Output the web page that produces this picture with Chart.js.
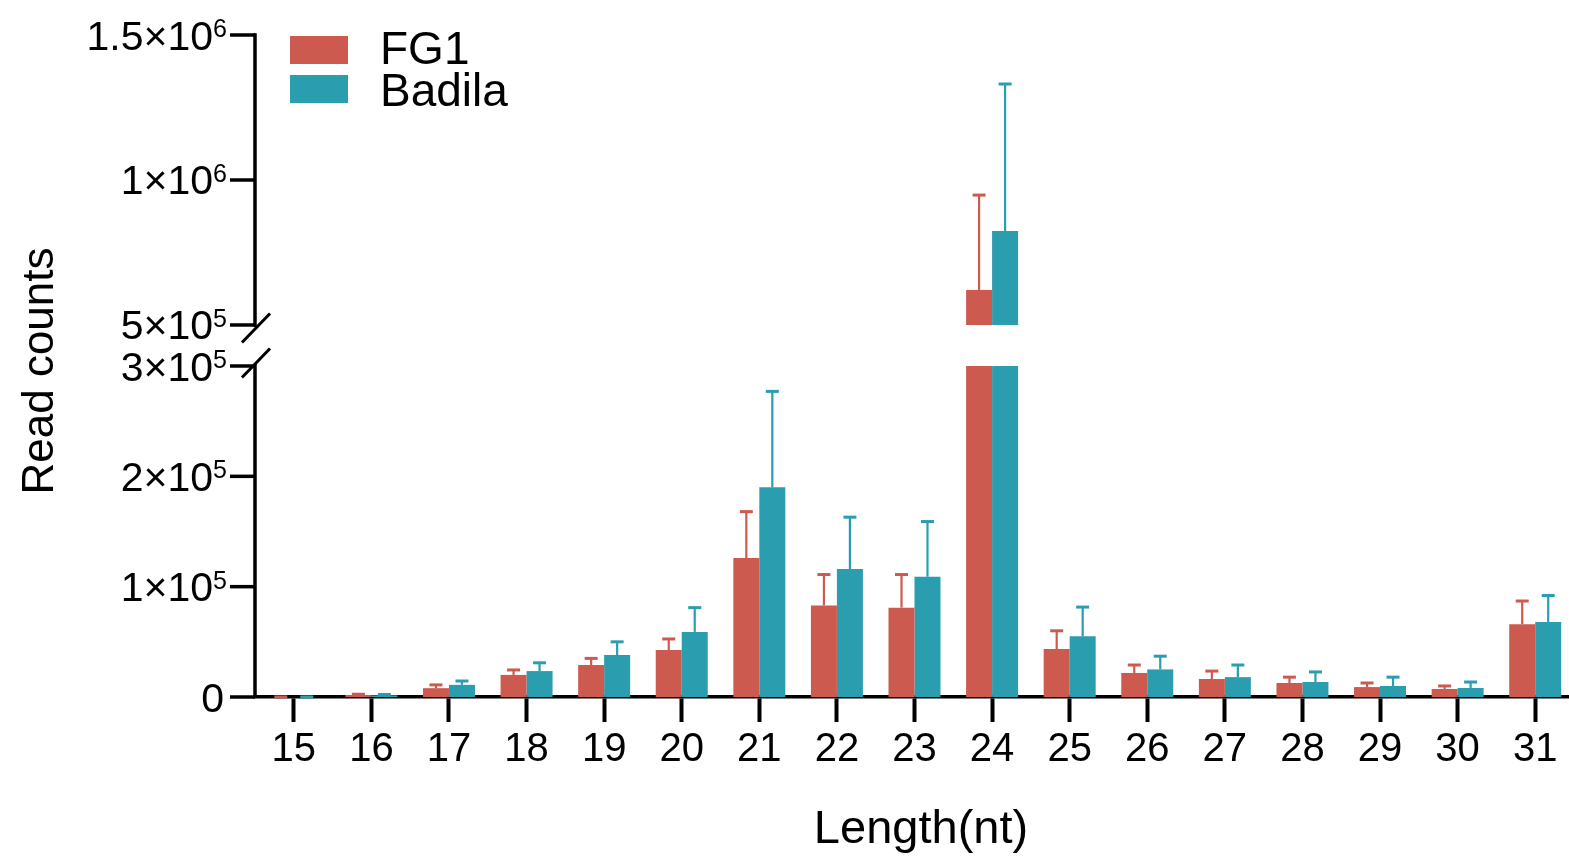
<!DOCTYPE html>
<html>
<head>
<meta charset="utf-8">
<title>Read counts by length</title>
<script src="https://cdn.jsdelivr.net/npm/chart.js@4.4.1/dist/chart.umd.min.js"></script>
<style>
    html, body {
        margin: 0;
        padding: 0;
        background: #ffffff;
        overflow: hidden;
    }
    #chart_box {
        position: relative;
        width: 1574px;
        height: 857px;
    }
</style>
</head>
<body>
<div id="chart_box">
    <canvas id="length_chart"></canvas>
</div>
<script>
// data
const length_labels = ["15", "16", "17", "18", "19", "20", "21", "22", "23", "24", "25", "26", "27", "28", "29", "30", "31"];
const fg1_counts = [40, 1800, 8000, 20000, 29000, 42600, 126000, 83000, 81000, 621000, 43500, 21800, 16300, 12700, 9000, 7300, 66000];
const fg1_errors = [30, 700, 3000, 4500, 6000, 10000, 42000, 28000, 30000, 327000, 16500, 7200, 7200, 5300, 3700, 2700, 21000];
const badila_counts = [40, 1500, 11000, 23500, 38000, 59000, 190000, 116000, 109000, 824000, 55000, 25000, 18000, 13600, 10000, 8200, 68000];
const badila_errors = [30, 800, 3500, 7500, 12000, 22000, 87000, 47000, 50000, 507000, 26500, 12000, 11000, 9100, 8000, 5400, 24000];
const series_names = ["FG1", "Badila"];

const y_low_ticks = [0, 100000, 200000, 300000];
const y_low_labels = ["0", "1×10^5", "2×10^5", "3×10^5"];
const y_high_ticks = [500000, 1000000, 1500000];
const y_high_labels = ["5×10^5", "1×10^6", "1.5×10^6"];

const x_title = "Length(nt)";
const y_title = "Read counts";

// broken axis: lower part 0..3e5, upper part starts at 5e5
const LOW_MAX = 300000;
const HIGH_START = 500000;
const HIGH_MIN = 358600;
const HIGH_MAX = 1500000;

const FONT = "Arial, 'Liberation Sans', Helvetica, sans-serif";
const COLORS = ["#cd5a4f", "#2a9daf"];


function drawPowerLabel(ctx, text, right_x, y) {
    let parts = text.split("^");
    let base = parts[0];
    let exp = parts.length > 1 ? parts[1] : "";
    ctx.textAlign = "right";
    ctx.textBaseline = "alphabetic";
    let exp_w = 0;
    if (exp) {
        ctx.font = "25px " + FONT;
        exp_w = ctx.measureText(exp).width;
        ctx.fillText(exp, right_x, y + 2);
    } else {
        right_x -= 3;
    }
    ctx.font = "41px " + FONT;
    ctx.fillText(base, right_x - exp_w, y + 14.5);
}


const broken_axis_plugin = {
    id: "brokenAxis",

    afterDatasetsDraw(chart) {
        let ctx = chart.ctx;
        let y_low = chart.scales.yLow;
        let y_high = chart.scales.yHigh;
        let all_counts = [fg1_counts, badila_counts];
        let all_errors = [fg1_errors, badila_errors];
        ctx.save();
        for (let s = 0; s < 2; s++) {
            let meta = chart.getDatasetMeta(s);
            ctx.strokeStyle = COLORS[s];
            for (let i = 0; i < length_labels.length; i++) {
                let bar = meta.data[i];
                let val = all_counts[s][i];
                let top = val + all_errors[s][i];
                let y0 = val > LOW_MAX ? y_high.getPixelForValue(val) : y_low.getPixelForValue(val);
                let y1 = top > LOW_MAX ? y_high.getPixelForValue(top) : y_low.getPixelForValue(top);
                ctx.lineWidth = 2.2;
                ctx.beginPath();
                ctx.moveTo(bar.x, y0);
                ctx.lineTo(bar.x, y1);
                ctx.stroke();
                ctx.lineWidth = 3;
                ctx.beginPath();
                ctx.moveTo(bar.x - 6.5, y1);
                ctx.lineTo(bar.x + 6.5, y1);
                ctx.stroke();
            }
        }
        ctx.restore();
    },

    afterDraw(chart) {
        let ctx = chart.ctx;
        let area = chart.chartArea;
        let y_low = chart.scales.yLow;
        let y_high = chart.scales.yHigh;
        let ax = area.left;
        ctx.save();
        ctx.strokeStyle = "#000000";
        ctx.fillStyle = "#000000";
        ctx.lineWidth = 3.5;
        ctx.lineCap = "butt";

        // y axis, in two pieces
        let y_break_hi = y_high.getPixelForValue(HIGH_START);
        let y_break_lo = y_low.getPixelForValue(LOW_MAX);
        ctx.beginPath();
        ctx.moveTo(ax, y_high.getPixelForValue(HIGH_MAX) - 1.75);
        ctx.lineTo(ax, y_break_hi + 2);
        ctx.moveTo(ax, y_break_lo - 2);
        ctx.lineTo(ax, y_low.getPixelForValue(0));
        ctx.stroke();

        // break marks
        ctx.lineWidth = 3;
        ctx.beginPath();
        ctx.moveTo(ax - 13, y_break_hi + 3 + 14.5);
        ctx.lineTo(ax + 15, y_break_hi + 3 - 14.5);
        ctx.moveTo(ax - 13, y_break_lo - 3 + 14.5);
        ctx.lineTo(ax + 15, y_break_lo - 3 - 14.5);
        ctx.stroke();

        // ticks and labels
        ctx.lineWidth = 3.5;
        let tick_sets = [[y_low, y_low_ticks, y_low_labels], [y_high, y_high_ticks, y_high_labels]];
        for (let t = 0; t < tick_sets.length; t++) {
            let scale = tick_sets[t][0];
            let ticks = tick_sets[t][1];
            let labels = tick_sets[t][2];
            for (let i = 0; i < ticks.length; i++) {
                let py = scale.getPixelForValue(ticks[i]);
                ctx.beginPath();
                ctx.moveTo(ax - 25, py);
                ctx.lineTo(ax, py);
                ctx.stroke();
                drawPowerLabel(ctx, labels[i], ax - 28, py);
            }
        }

        // axis titles
        ctx.font = "44px " + FONT;
        ctx.textAlign = "center";
        ctx.textBaseline = "alphabetic";
        ctx.save();
        ctx.translate(53, 371);
        ctx.rotate(-Math.PI / 2);
        ctx.fillText(y_title, 0, 0);
        ctx.restore();
        ctx.font = "47px " + FONT;
        ctx.fillText(x_title, 921, 843);

        // legend
        ctx.font = "46px " + FONT;
        ctx.textAlign = "left";
        for (let s = 0; s < series_names.length; s++) {
            ctx.fillStyle = COLORS[s];
            ctx.fillRect(290, 36 + s * 39, 58, 28);
            ctx.fillStyle = "#000000";
            ctx.fillText(series_names[s], 380, 64 + s * 42);
        }
        ctx.restore();
    }
};


let low_fg1 = fg1_counts.map(v => Math.min(v, LOW_MAX));
let low_badila = badila_counts.map(v => Math.min(v, LOW_MAX));
let high_fg1 = fg1_counts.map(v => v > HIGH_START ? [HIGH_START, v] : null);
let high_badila = badila_counts.map(v => v > HIGH_START ? [HIGH_START, v] : null);

let bar_common = {
    borderWidth: 0,
    categoryPercentage: 0.67,
    barPercentage: 1.0
};

let ctx = document.getElementById("length_chart").getContext("2d");
let chart = new Chart(ctx, {
    type: "bar",
    data: {
        labels: length_labels,
        datasets: [
            Object.assign({label: series_names[0], data: low_fg1, backgroundColor: COLORS[0], yAxisID: "yLow", stack: "fg1"}, bar_common),
            Object.assign({label: series_names[1], data: low_badila, backgroundColor: COLORS[1], yAxisID: "yLow", stack: "badila"}, bar_common),
            Object.assign({label: series_names[0], data: high_fg1, backgroundColor: COLORS[0], yAxisID: "yHigh", stack: "fg1"}, bar_common),
            Object.assign({label: series_names[1], data: high_badila, backgroundColor: COLORS[1], yAxisID: "yHigh", stack: "badila"}, bar_common)
        ]
    },
    options: {
        responsive: true,
        maintainAspectRatio: false,
        animation: false,
        layout: {
            padding: {top: 35, left: 0, right: 0, bottom: 0}
        },
        plugins: {
            legend: {display: false},
            tooltip: {enabled: false}
        },
        scales: {
            x: {
                z: 1,
                grid: {
                    display: true,
                    drawOnChartArea: false,
                    offset: false,
                    tickLength: 25,
                    tickWidth: 4,
                    tickColor: "#000000"
                },
                border: {color: "#000000", width: 3.5},
                ticks: {
                    color: "#000000",
                    padding: 4,
                    maxRotation: 0,
                    autoSkip: false,
                    font: {family: FONT, size: 40}
                },
                afterFit: function(scale) {
                    scale.height = 160;
                }
            },
            yLow: {
                type: "linear",
                position: "left",
                stack: "y",
                stackWeight: 1,
                weight: 1,
                stacked: false,
                min: 0,
                max: LOW_MAX,
                grid: {display: false},
                border: {display: false},
                ticks: {display: false},
                afterFit: function(scale) {
                    scale.width = 255;
                }
            },
            yHigh: {
                type: "linear",
                position: "left",
                stack: "y",
                stackWeight: 1,
                weight: 2,
                stacked: false,
                min: HIGH_MIN,
                max: HIGH_MAX,
                grid: {display: false},
                border: {display: false},
                ticks: {display: false},
                afterFit: function(scale) {
                    scale.width = 255;
                }
            }
        }
    },
    plugins: [broken_axis_plugin]
});
</script>
</body>
</html>
